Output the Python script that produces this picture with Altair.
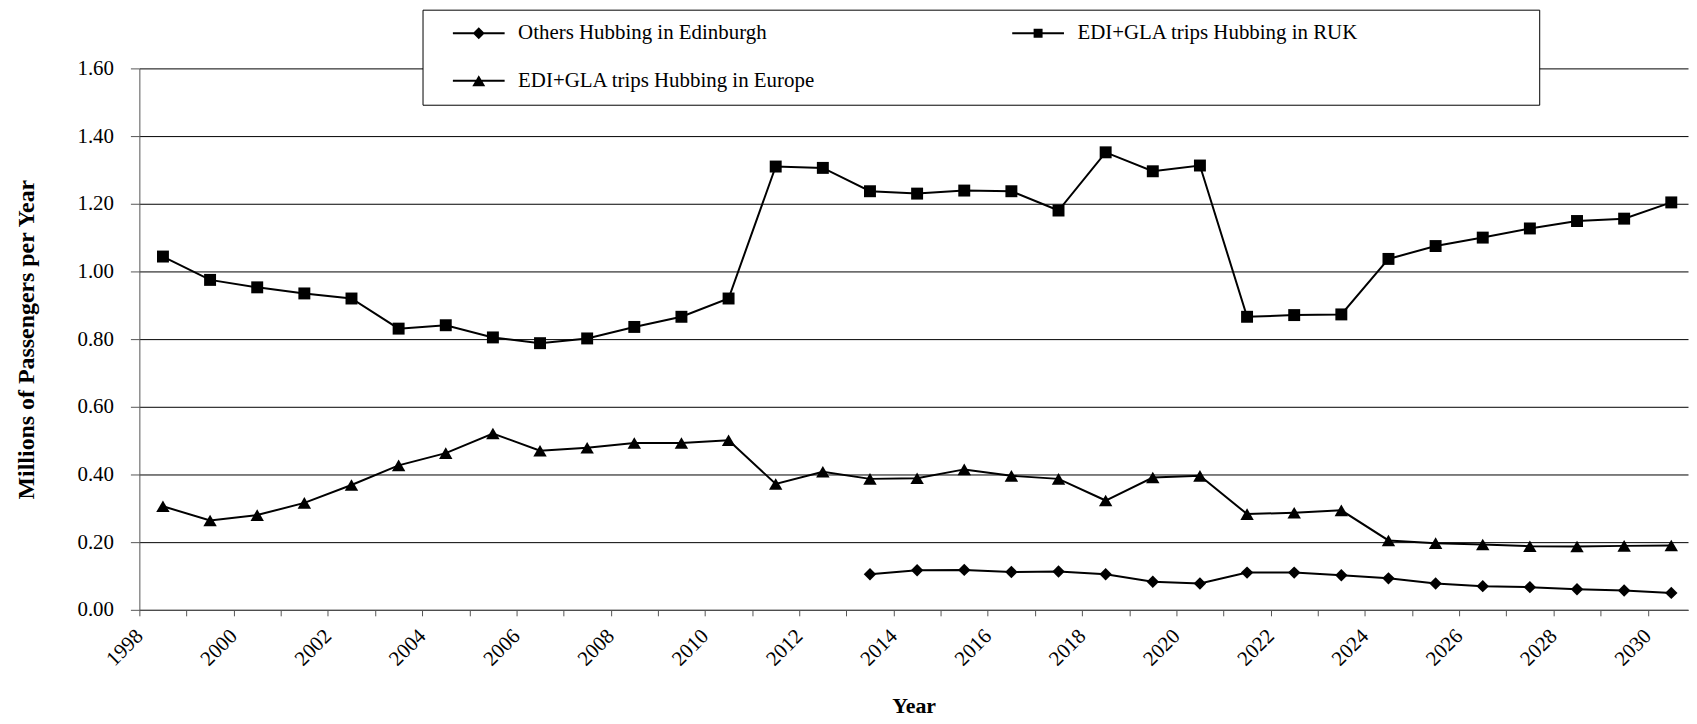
import altair as alt
import pandas as pd

# ---- data ----
years = list(range(1998, 2031))
series_names = [
    "Others Hubbing in Edinburgh",
    "EDI+GLA trips Hubbing in RUK",
    "EDI+GLA trips Hubbing in Europe",
]
others = [None] * 15 + [
    0.105, 0.117, 0.118, 0.112, 0.113, 0.105, 0.083, 0.078, 0.110,
    0.110, 0.102, 0.093, 0.078, 0.070, 0.067, 0.061, 0.057, 0.050,
]
ruk = [
    1.044, 0.975, 0.953, 0.935, 0.920, 0.831, 0.841, 0.805, 0.788, 0.802, 0.836,
    0.866, 0.920, 1.310, 1.306, 1.237, 1.230, 1.239, 1.237, 1.180, 1.352, 1.296,
    1.313, 0.866, 0.871, 0.873, 1.037, 1.075, 1.100, 1.127, 1.149, 1.156, 1.204,
]
europe = [
    0.306, 0.264, 0.280, 0.316, 0.369, 0.427, 0.463, 0.521, 0.470, 0.479, 0.493,
    0.493, 0.501, 0.372, 0.408, 0.387, 0.389, 0.415, 0.396, 0.387, 0.323, 0.391,
    0.396, 0.283, 0.287, 0.294, 0.205, 0.197, 0.193, 0.188, 0.187, 0.189, 0.190,
]
tick_years = list(range(1998, 2031))
y_ticks = [0.0, 0.2, 0.4, 0.6, 0.8, 1.0, 1.2, 1.4, 1.6]

rows = []
for name, vals in zip(series_names, [others, ruk, europe]):
    for yr, v in zip(years, vals):
        if v is not None:
            rows.append({"year": yr, "series": name, "value": v})
df = pd.DataFrame(rows)

# ---- styling ----
FONT = "Liberation Serif"
PLOT_W = 1556
PLOT_H = 544
YEAR_W = 47.36
x_max = 1998 + PLOT_W / YEAR_W

base = alt.Chart(df).transform_calculate(xpos="datum.year + 0.5")

x_enc = alt.X(
    "xpos:Q",
    scale=alt.Scale(domain=[1998, x_max], nice=False, zero=False),
    axis=alt.Axis(
        values=tick_years,
        format="d",
        labelExpr="datum.value % 2 == 0 ? datum.label : ''",
        labelAngle=-45,
        labelAlign="right",
        labelBaseline="middle",
        labelPadding=17,
        labelOverlap=False,
        labelBound=False,
        labelFlush=False,
        labelFontSize=21,
        tickSize=6,
        tickColor="#555555",
        domainColor="#555555",
        grid=False,
        title="Year",
        titleFontWeight="bold",
        titleFontSize=22,
        titleY=96,
        titleBaseline="middle",
    ),
)
y_enc = alt.Y(
    "value:Q",
    scale=alt.Scale(domain=[0, 1.6], nice=False, zero=True),
    axis=alt.Axis(
        values=y_ticks,
        format=".2f",
        tickSize=9,
        tickColor="#555555",
        domainColor="#555555",
        labelPadding=17,
        labelFontSize=21,
        grid=True,
        gridColor="black",
        gridWidth=1,
        title="Millions of Passengers per Year",
        titleFontWeight="bold",
        titleFontSize=24,
        titleAngle=-90,
        titleX=-113,
        titleY=PLOT_H / 2,
        titleBaseline="middle",
        titleAlign="center",
    ),
)

frame = alt.Chart(alt.Data(values=[{}])).mark_rect(
    fill="white", stroke="black", strokeWidth=1
).encode(
    x=alt.value(285), x2=alt.value(1407), y=alt.value(-58.5), y2=alt.value(37)
)

lines = base.mark_line(color="black", strokeWidth=2).encode(
    x=x_enc, y=y_enc, detail="series:N"
)

marker_shapes = ["diamond", "square", "triangle-up"]
marker_sizes = [156, 144, 182]
point_layers = [
    base.transform_filter(alt.datum.series == name)
    .mark_point(filled=True, color="black", opacity=1, shape=shp, size=sz)
    .encode(x=x_enc, y=y_enc)
    for name, shp, sz in zip(series_names, marker_shapes, marker_sizes)
]

# legend symbols: a short line (thin filled bar) with the marker in the middle
legend_paths = [
    "M-5.2,-0.2H5.2V0.2H-5.2ZM0,-1.2L1.2,0L0,1.2L-1.2,0Z",
    "M-5.2,-0.2H5.2V0.2H-5.2ZM-0.9,-0.9H0.9V0.9H-0.9Z",
    "M-5.2,-0.2H5.2V0.2H-5.2ZM0,-1.1L1.3,1.1L-1.3,1.1Z",
]

legend_layer = base.transform_filter("false").mark_point(
    filled=True, color="black", strokeWidth=0, opacity=1, size=100
).encode(
    x=x_enc,
    y=y_enc,
    shape=alt.Shape(
        "series:N",
        scale=alt.Scale(domain=series_names, range=legend_paths),
        legend=alt.Legend(
            title=None,
            orient="none",
            direction="horizontal",
            legendX=330.5,
            legendY=-46,
            columns=2,
            columnPadding=197,
            rowPadding=26,
            padding=0,
            symbolSize=100,
            symbolStrokeWidth=0,
            symbolFillColor="black",
            symbolOpacity=1,
            labelFont=FONT,
            labelFontSize=21,
            labelColor="black",
            labelOffset=29,
            labelLimit=1000,
        ),
    ),
)

chart = (
    alt.layer(frame, lines, *point_layers, legend_layer)
    .properties(
        width=PLOT_W,
        height=PLOT_H,
        padding={"left": 132, "top": 59, "right": 1, "bottom": 108},
        autosize=alt.AutoSizeParams(type="none"),
        background="white",
    )
    .configure_view(strokeWidth=0)
    .configure_axis(
        labelFont=FONT,
        titleFont=FONT,
        labelColor="black",
        titleColor="black",
    )
)

chart.save("out.html", embed_options={"renderer": "svg", "actions": False})
